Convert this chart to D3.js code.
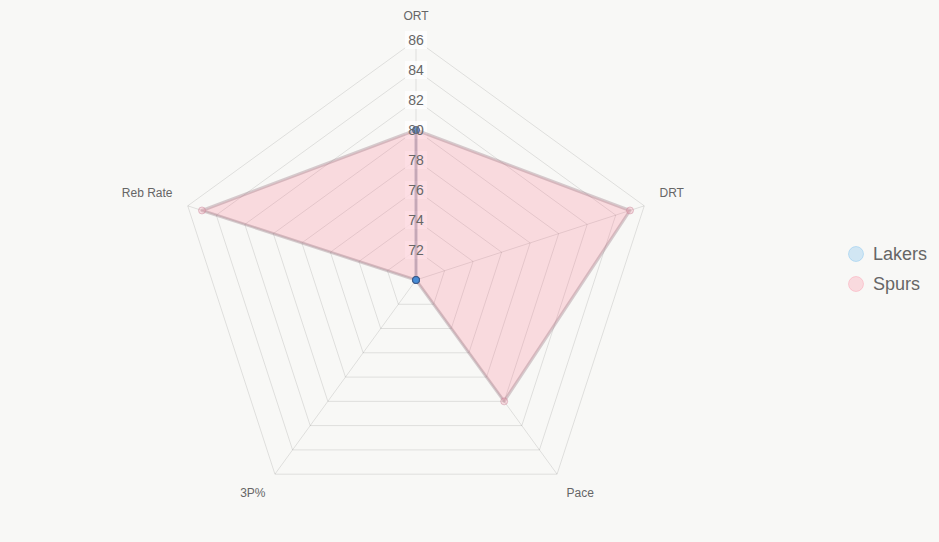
<!DOCTYPE html>
<html>
<head>
<meta charset="utf-8">
<script src="https://cdn.jsdelivr.net/npm/d3@7"></script>
<style>
  html, body { margin: 0; padding: 0; background: #f8f8f6; }
  svg { display: block; font-family: "Helvetica Neue", Helvetica, Arial, "Liberation Sans", sans-serif; }
</style>
</head>
<body>
<div id="chart"></div>
<script>
// Data
const axes = ["ORT", "DRT", "Pace", "3P%", "Reb Rate"];
const teams = ["Lakers", "Spurs"];
const lakersValues = [80, 70, 70, 70, 70];
const spursValues = [80, 85, 80, 70, 85];
const tickValues = [72, 74, 76, 78, 80, 82, 84, 86];
const scaleMin = 70, scaleMax = 86;

const fills = ["rgba(54,162,235,0.2)", "rgba(255,99,132,0.2)"];
const borders = ["rgba(120,125,150,0.45)", "rgba(150,115,125,0.35)"];
const pointFills = ["rgba(70,140,215,0.8)", "rgba(240,150,170,0.3)"];
const pointBorders = ["rgba(60,80,120,0.7)", "rgba(200,130,150,0.45)"];

function drawRadar(selector)
{
    var width = 939, height = 542;
    var cx = 416, cy = 280, radius = 240;

    var svg = d3.select(selector)
        .append("svg")
        .attr("width", width)
        .attr("height", height);

    svg.append("rect")
        .attr("width", width)
        .attr("height", height)
        .attr("fill", "#f8f8f6");

    var g = svg.append("g")
        .attr("transform", "translate(" + cx + "," + cy + ")");

    // Radial scale
    var r = d3.scaleLinear()
        .domain([scaleMin, scaleMax])
        .range([0, radius]);

    var angle = d3.scalePoint()
        .domain(axes)
        .range([0, 2 * Math.PI * (axes.length - 1) / axes.length]);

    function pos(a, v) {
        var t = angle(a);
        return [Math.sin(t) * r(v), -Math.cos(t) * r(v)];
    }

    // Grid rings
    tickValues.forEach(function(tv) {
        g.append("polygon")
            .attr("points", axes.map(a => pos(a, tv).join(",")).join(" "))
            .attr("fill", "none")
            .attr("stroke", "rgba(0,0,0,0.1)")
            .attr("stroke-width", 1);
    });

    // Angle lines
    axes.forEach(function(a) {
        var p = pos(a, scaleMax);
        g.append("line")
            .attr("x1", 0).attr("y1", 0)
            .attr("x2", p[0]).attr("y2", p[1])
            .attr("stroke", "rgba(0,0,0,0.1)")
            .attr("stroke-width", 1);
    });

    // Point labels
    axes.forEach(function(a) {
        var t = angle(a);
        var d = radius + 16;
        var x = Math.sin(t) * d, y = -Math.cos(t) * d;
        var anchor = Math.abs(x) < 1 ? "middle" : (x > 0 ? "start" : "end");
        var dy = y < 0 ? -4 : 10;
        if (Math.abs(x) < 1) dy = -4;
        g.append("text")
            .attr("x", x)
            .attr("y", y + dy)
            .attr("text-anchor", anchor)
            .style("font-size", "12px")
            .style("fill", "#666")
            .text(a);
    });

    // Tick backdrops (under the datasets)
    tickValues.forEach(function(tv) {
        var y = -r(tv);
        g.append("rect")
            .attr("x", -11)
            .attr("y", y - 9)
            .attr("width", 22)
            .attr("height", 18)
            .attr("fill", "rgba(255,255,255,0.75)");
    });

    // Dataset areas (Lakers first, Spurs on top)
    var line = d3.line().curve(d3.curveLinearClosed);
    var allPts = [lakersValues, spursValues].map(vals => axes.map((a, j) => pos(a, vals[j])));
    allPts.forEach(function(pts, i) {
        g.append("path")
            .attr("d", line(pts))
            .attr("fill", fills[i])
            .attr("stroke", borders[i])
            .attr("stroke-width", 3)
            .attr("stroke-linejoin", "round");
    });

    // Points (Spurs, then Lakers)
    [1, 0].forEach(function(i) {
        g.selectAll(null)
            .data(allPts[i])
            .enter()
            .append("circle")
            .attr("cx", d => d[0])
            .attr("cy", d => d[1])
            .attr("r", 3.5)
            .attr("fill", pointFills[i])
            .attr("stroke", pointBorders[i])
            .attr("stroke-width", 1);
    });

    // Tick labels
    tickValues.forEach(function(tv) {
        g.append("text")
            .attr("x", 0)
            .attr("y", -r(tv))
            .attr("dy", "0.35em")
            .attr("text-anchor", "middle")
            .style("font-size", "14px")
            .style("fill", "#666")
            .text(tv);
    });

    // Legend
    var legend = svg.append("g")
        .attr("transform", "translate(856,254)");
    teams.forEach(function(name, i) {
        var row = legend.append("g")
            .attr("transform", "translate(0," + (i * 30) + ")");
        row.append("circle")
            .attr("r", 7.5)
            .attr("fill", fills[i])
            .attr("stroke", i === 0 ? "rgba(54,162,235,0.25)" : "rgba(255,99,132,0.25)")
            .attr("stroke-width", 1);
        row.append("text")
            .attr("x", 17)
            .attr("y", 0)
            .attr("dy", "0.35em")
            .style("font-size", "18px")
            .style("fill", "#666")
            .text(name);
    });
}

drawRadar("#chart");
</script>
</body>
</html>
